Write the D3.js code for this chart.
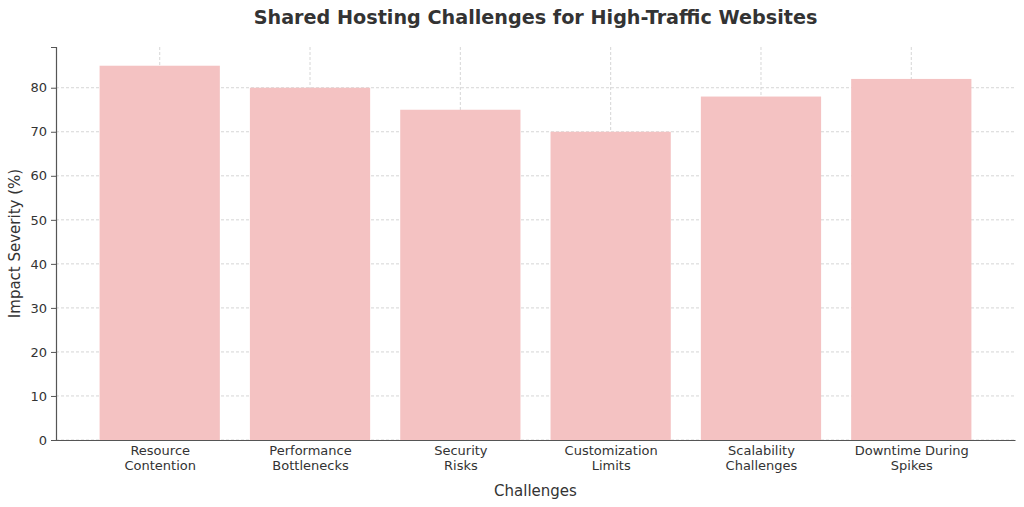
<!DOCTYPE html>
<html lang="en">
<head>
<meta charset="UTF-8">
<title>Shared Hosting Challenges for High-Traffic Websites</title>
<script src="https://cdn.jsdelivr.net/npm/d3@7"></script>
<style>
  html, body { margin: 0; padding: 0; background: #fff; }
  svg { display: block; font-family: "DejaVu Sans", sans-serif; }
</style>
</head>
<body>
<svg id="chart" width="1024" height="507"></svg>
<script>
// data
const categories = ['Resource\nContention', 'Performance\nBottlenecks', 'Security\nRisks',
  'Customization\nLimits', 'Scalability\nChallenges', 'Downtime During\nSpikes'];
const severity = [85, 80, 75, 70, 78, 82];
const yTicks = [0, 10, 20, 30, 40, 50, 60, 70, 80];

const svg = d3.select('#chart');
const margin = { top: 47, right: 9, bottom: 67, left: 56 };
const W = 1024, H = 507;
const iw = W - margin.left - margin.right;
const ih = H - margin.top - margin.bottom;

const g = svg.append('g').attr('transform', `translate(${margin.left},${margin.top})`);

// x: matplotlib-like positions, bars 0.8 wide, 5% margin
const idx = d3.range(categories.length);
const x = d3.scaleLinear().domain([-0.69, categories.length - 1 + 0.69]).range([0, iw]);
const y = d3.scaleLinear().domain([0, 89.25]).range([ih, 0]);

// grid
g.append('g').selectAll('line').data(yTicks).join('line')
  .attr('x1', 0).attr('x2', iw)
  .attr('y1', d => y(d)).attr('y2', d => y(d))
  .attr('stroke', '#ccc').attr('stroke-width', 0.8).attr('stroke-dasharray', '3,2');
g.append('g').selectAll('line').data(idx).join('line')
  .attr('x1', d => x(d)).attr('x2', d => x(d))
  .attr('y1', 0).attr('y2', ih)
  .attr('stroke', '#ccc').attr('stroke-width', 0.8).attr('stroke-dasharray', '3,2');

// bars
g.append('g').selectAll('rect').data(severity).join('rect')
  .attr('x', (d, i) => x(i - 0.4))
  .attr('width', x(0.4) - x(-0.4))
  .attr('y', d => y(d))
  .attr('height', d => ih - y(d))
  .attr('fill', '#f4c2c2');

// y axis
const yAxis = g.append('g')
  .call(d3.axisLeft(y).tickValues(yTicks).tickSize(5).tickPadding(4));
yAxis.select('.domain').attr('stroke', '#555').attr('stroke-width', 1.2);
yAxis.selectAll('.tick line').attr('stroke', '#555');
yAxis.selectAll('.tick text').attr('fill', '#333').style('font-size', '13px')
  .style('font-family', '"DejaVu Sans", sans-serif');

// x axis
const xAxis = g.append('g').attr('transform', `translate(0,${ih})`)
  .call(d3.axisBottom(x).tickValues(idx).tickSize(0).tickPadding(6).tickFormat(() => ''));
xAxis.select('.domain').attr('stroke', '#555').attr('stroke-width', 1.2);
xAxis.selectAll('.tick').each(function (d) {
  const t = d3.select(this).select('text')
    .attr('fill', '#333').style('font-size', '13px')
    .style('font-family', '"DejaVu Sans", sans-serif');
  categories[d].split('\n').forEach((line, k) => {
    t.append('tspan').attr('x', 0).attr('dy', k === 0 ? '0.71em' : '1.1em').text(line);
  });
});

// titles
svg.append('text').attr('x', margin.left + iw / 2).attr('y', 24)
  .attr('text-anchor', 'middle').attr('fill', '#333')
  .style('font-size', '19.2px').style('font-weight', 'bold')
  .text('Shared Hosting Challenges for High-Traffic Websites');
svg.append('text').attr('x', margin.left + iw / 2).attr('y', 496)
  .attr('text-anchor', 'middle').attr('fill', '#333').style('font-size', '15px')
  .text('Challenges');
svg.append('text')
  .attr('transform', `translate(20,${margin.top + ih / 2}) rotate(-90)`)
  .attr('text-anchor', 'middle').attr('fill', '#333').style('font-size', '15px')
  .text('Impact Severity (%)');
</script>
</body>
</html>
